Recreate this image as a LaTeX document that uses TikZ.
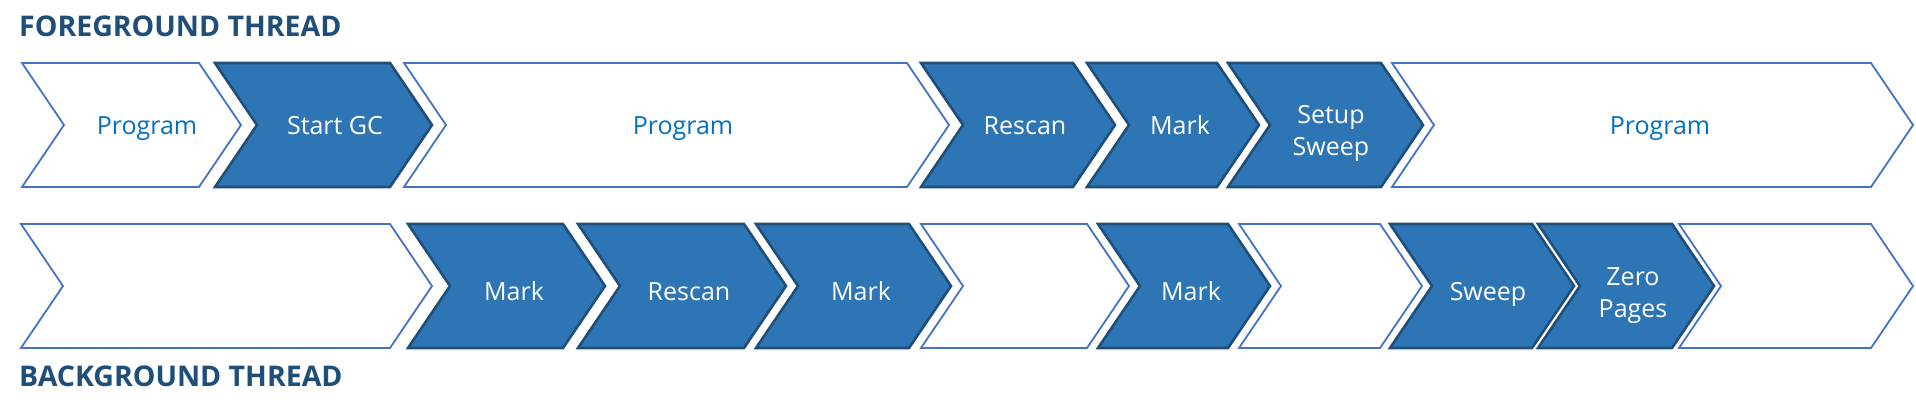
\documentclass[tikz,border=0pt]{standalone}
\usepackage{fontspec}
\setmainfont{Open Sans}
\usetikzlibrary{positioning}
\definecolor{gcblue}{RGB}{46,117,182}
\definecolor{gcedge}{RGB}{31,78,121}
\definecolor{runedge}{RGB}{68,114,196}
\definecolor{runtext}{RGB}{0,112,192}
\definecolor{headblue}{RGB}{31,78,121}
\tikzset{
  runbox/.style={draw=runedge, fill=white, line width=1.8pt, line join=miter},
  gcbox/.style={draw=gcedge, fill=gcblue, line width=2.6pt, line join=miter},
  runlabel/.style={text=runtext, font=\fontsize{25}{32}\selectfont, align=center,
               inner sep=0pt, anchor=base},
  gclabel/.style={text=white, font=\fontsize{25}{32}\selectfont, align=center,
               inner sep=0pt, anchor=base},
  threadhead/.style={text=headblue, font=\fontsize{28.5}{32}\selectfont\bfseries,
               anchor=base west, inner sep=0pt},
}

\begin{document}
\begin{tikzpicture}[x=1pt, y=-1pt]
    \useasboundingbox (0,0) rectangle (1916,412);
    \node[threadhead] (fghead) at (19,37) {FOREGROUND THREAD};
    \node[threadhead] (bghead) at (19,386) {BACKGROUND THREAD};
    % foreground thread
    \foreach \xa/\xb/\kind/\id/\tx/\ty/\txt in {22/199/run/fgrun/147/134/Program,
        215/390/gc/fgstart/335/134/Start GC, 404/907/run/fgrunb/683/134/Program,
        921/1073/gc/fgrescan/1025/134/Rescan, 1087/1217/gc/fgmark/1180/134/Mark,
        1228/1381/gc/fgsetup/1331/155/{Setup\\Sweep}, 1392/1871/run/fgrunc/1660/134/Program} {
      \draw[\kind box] (\xa,63) -- (\xb,63) -- (\xb+42,125) -- (\xb,187) -- (\xa,187) -- (\xa+42,125) -- cycle;
      \node[\kind label] (\id) at (\tx,\ty) {\txt};
    }
    % background thread
    \foreach \xa/\xb/\kind/\id/\tx/\ty/\txt in {21/390/run/bgidle/233/300/{},
        408/563/gc/bgmark/514/300/Mark, 578/744/gc/bgrescan/689/300/Rescan,
        756/909/gc/bgmarkb/861/300/Mark, 921/1087/run/bgidleb/1032/300/{},
        1098/1228/gc/bgmarkc/1191/300/Mark, 1239/1380/run/bgidlec/1337/300/{},
        1390/1532/gc/bgsweep/1488/300/Sweep, 1538/1672/gc/bgzero/1633/317/{Zero\\Pages},
        1679/1871/run/bgidled/1803/300/{}} {
      \draw[\kind box] (\xa,224) -- (\xb,224) -- (\xb+42,286) -- (\xb,348) -- (\xa,348) -- (\xa+42,286) -- cycle;
      \node[\kind label] (\id) at (\tx,\ty) {\txt};
    }
  \end{tikzpicture}
\end{document}
